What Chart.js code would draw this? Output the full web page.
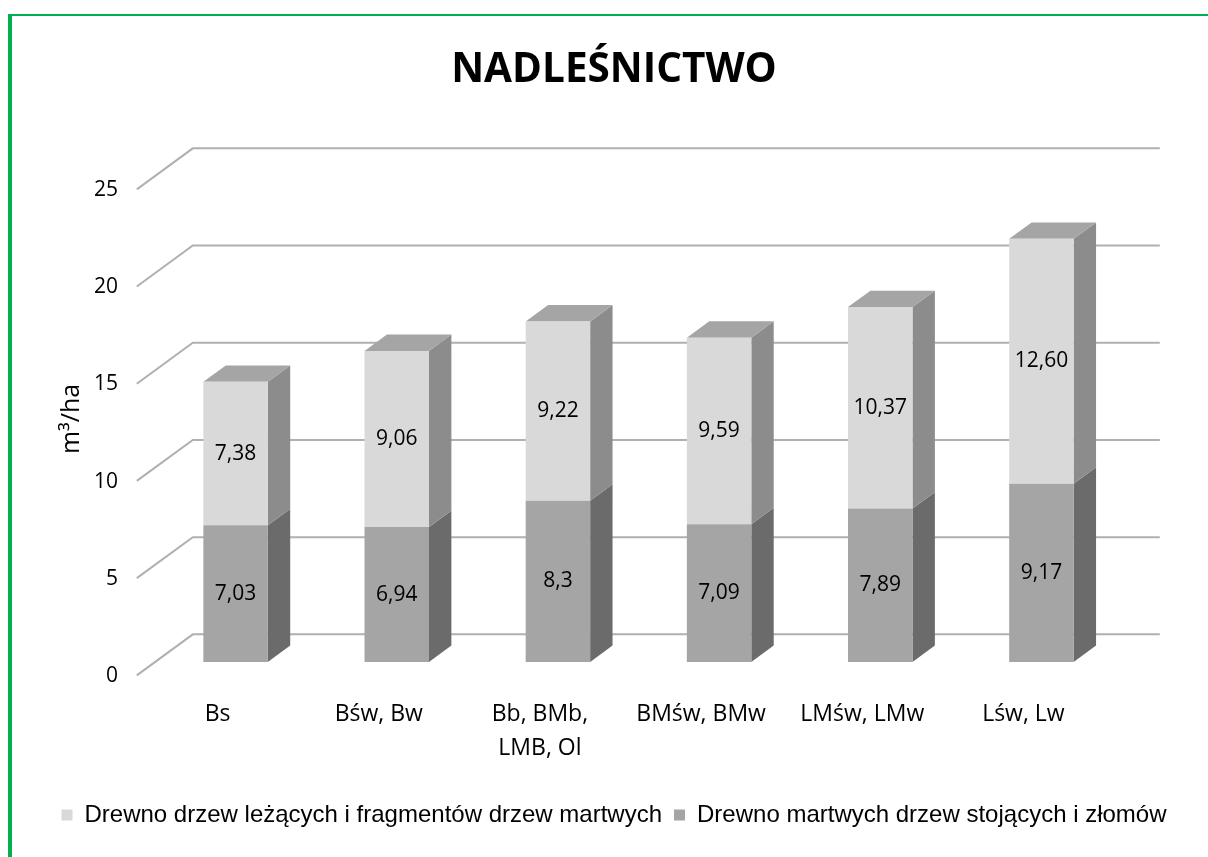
<!DOCTYPE html>
<html lang="pl">
<head>
<meta charset="utf-8">
<title>Nadleśnictwo – zasoby martwego drewna</title>
<script src="https://cdn.jsdelivr.net/npm/chart.js@4.4.1/dist/chart.umd.min.js"></script>
<style>
  html, body { margin: 0; padding: 0; background: #fff; overflow: hidden; }
  #wrap { position: relative; width: 1208px; height: 857px; }
  #frame {
    position: absolute; left: 8px; top: 14px; width: 1400px; height: 1000px;
    border-top: 2px solid #00b050; border-left: 4px solid #00b050;
    pointer-events: none;
  }
  canvas { display: block; }
</style>
</head>
<body>
<div id="wrap">
  <canvas id="chart" width="1208" height="857"></canvas>
  <div id="frame"></div>
</div>
<script>
/* ── Data ───────────────────────────────────── */
const siedliska = ['Bs', 'Bśw, Bw', ['Bb, BMb,', 'LMB, Ol'], 'BMśw, BMw', 'LMśw, LMw', 'Lśw, Lw'];
const stojace   = ['7,03', '6,94', '8,3', '7,09', '7,89', '9,17'];    // m3/ha
const lezace    = ['7,38', '9,06', '9,22', '9,59', '10,37', '12,60']; // m3/ha
const yTicks    = [0, 5, 10, 15, 20, 25];
const serie     = [
  'Drewno martwych drzew stojących i złomów',
  'Drewno drzew leżących i fragmentów drzew martwych',
];

const toNum = s => parseFloat(s.replace(',', '.'));

/* ── Layout ─────────────────────────────────── */
const PAD   = { left: 20, top: 14, right: 0, bottom: 20 };
const PLOT  = { left: 155, right: 1122, top: 176, bottom: 662 };
const DEPTH = { x: 56, y: -41 };  // floor depth, front edge -> back wall
const BAR_AT    = 0.325;          // where bar fronts sit along the depth
const BAR_DEPTH = 0.4;
const TITLE_FONT = { family: 'Open Sans', size: 40.5, weight: 'bold', lineHeight: 1.2 };
const TITLE_PAD_TOP = 32;

function poly(ctx, pts) {
  ctx.beginPath();
  pts.forEach(([x, y], i) => (i ? ctx.lineTo(x, y) : ctx.moveTo(x, y)));
  ctx.closePath();
  ctx.fill();
}

/* ── 3D walls, side and top faces ───────────── */
const box3d = {
  id: 'box3d',
  beforeDatasetsDraw(chart) {
    const { ctx, chartArea: a, scales: { y } } = chart;
    const fx = -BAR_AT * DEPTH.x, fy = -BAR_AT * DEPTH.y;
    const bx = (1 - BAR_AT) * DEPTH.x, by = (1 - BAR_AT) * DEPTH.y;

    ctx.save();
    ctx.strokeStyle = '#b0b0b0';
    ctx.lineWidth = 2;
    yTicks.forEach(v => {
      const py = y.getPixelForValue(v);
      ctx.beginPath();
      ctx.moveTo(a.left + fx, py + fy);
      ctx.lineTo(a.left + bx, py + by);
      ctx.lineTo(a.right + bx, py + by);
      ctx.stroke();
    });

    const dx = BAR_DEPTH * DEPTH.x, dy = BAR_DEPTH * DEPTH.y;
    const last = chart.data.datasets.length - 1;
    chart.data.datasets.forEach((ds, di) => {
      chart.getDatasetMeta(di).data.forEach(bar => {
        const { x, y: top, base, width } = bar.getProps(['x', 'y', 'base', 'width'], true);
        const l = x - width / 2, r = x + width / 2;
        ctx.fillStyle = ds.sideColor;
        poly(ctx, [[r, top], [r + dx, top + dy], [r + dx, base + dy], [r, base]]);
        if (di === last) {
          ctx.fillStyle = ds.topColor;
          poly(ctx, [[l, top], [l + dx, top + dy], [r + dx, top + dy], [r, top]]);
        }
      });
    });
    ctx.restore();
  }
};

/* ── Value labels inside segments ───────────── */
const valueLabels = {
  id: 'valueLabels',
  afterDatasetsDraw(chart) {
    const { ctx } = chart;
    ctx.save();
    ctx.font = '21px "Open Sans"';
    ctx.fillStyle = '#000';
    ctx.textAlign = 'center';
    ctx.textBaseline = 'middle';
    chart.data.datasets.forEach((ds, di) => {
      chart.getDatasetMeta(di).data.forEach((bar, i) => {
        const { x, y, base } = bar.getProps(['x', 'y', 'base'], true);
        ctx.fillText(ds.valueText[i], x, (y + base) / 2);
      });
    });
    ctx.restore();
  }
};

new Chart(document.getElementById('chart'), {
  type: 'bar',
  data: {
    labels: siedliska,
    datasets: [
      {
        label: serie[0], data: stojace.map(toNum), valueText: stojace,
        backgroundColor: '#a5a5a5', sideColor: '#6b6b6b', topColor: '#8a8a8a',
      },
      {
        label: serie[1], data: lezace.map(toNum), valueText: lezace,
        backgroundColor: '#d9d9d9', sideColor: '#8c8c8c', topColor: '#a5a5a5',
      },
    ],
  },
  options: {
    responsive: false,
    devicePixelRatio: 1,
    animation: false,
    layout: { padding: PAD },
    datasets: { bar: { categoryPercentage: 1, barPercentage: 0.4, borderWidth: 0 } },
    plugins: {
      tooltip: { enabled: false },
      title: {
        display: true,
        text: 'NADLEŚNICTWO',
        color: '#000',
        font: TITLE_FONT,
        padding: {
          top: TITLE_PAD_TOP,
          bottom: PLOT.top - PAD.top - TITLE_PAD_TOP - TITLE_FONT.size * TITLE_FONT.lineHeight,
        },
      },
      legend: {
        position: 'bottom',
        reverse: true,
        labels: {
          color: '#000',
          font: { family: '"Liberation Sans", Arial', size: 24 },
          boxWidth: 11, boxHeight: 11, padding: 12,
        },
      },
    },
    scales: {
      x: {
        stacked: true,
        grid: { display: false, drawTicks: false },
        border: { display: false },
        ticks: {
          color: '#000',
          font: { family: 'Open Sans', size: 23, lineHeight: 1.45 },
          padding: 36, labelOffset: -18,
          maxRotation: 0, autoSkip: false,
        },
        afterFit: s => { s.height = s.chart.height - PAD.bottom - s.chart.legend.height - PLOT.bottom; },
      },
      y: {
        stacked: true,
        min: 0, max: 25,
        grid: { display: false, drawTicks: false },
        border: { display: false },
        ticks: { color: '#000', font: { family: 'Open Sans', size: 21 }, padding: 37, labelOffset: 14 },
        title: {
          display: true, text: 'm³/ha', color: '#000',
          font: { family: 'Open Sans', size: 25, lineHeight: 1.2 },
          padding: { top: 37, bottom: 0 },
        },
        afterBuildTicks: s => { s.ticks = yTicks.map(v => ({ value: v })); },
        afterFit: s => { s.width = PLOT.left - PAD.left; },
      },
      pad: {
        type: 'linear', axis: 'y', position: 'right',
        grid: { display: false }, border: { display: false }, ticks: { display: false },
        afterFit: s => { s.width = s.chart.width - PAD.right - PLOT.right; },
      },
    },
  },
  plugins: [box3d, valueLabels],
});
</script>
</body>
</html>
